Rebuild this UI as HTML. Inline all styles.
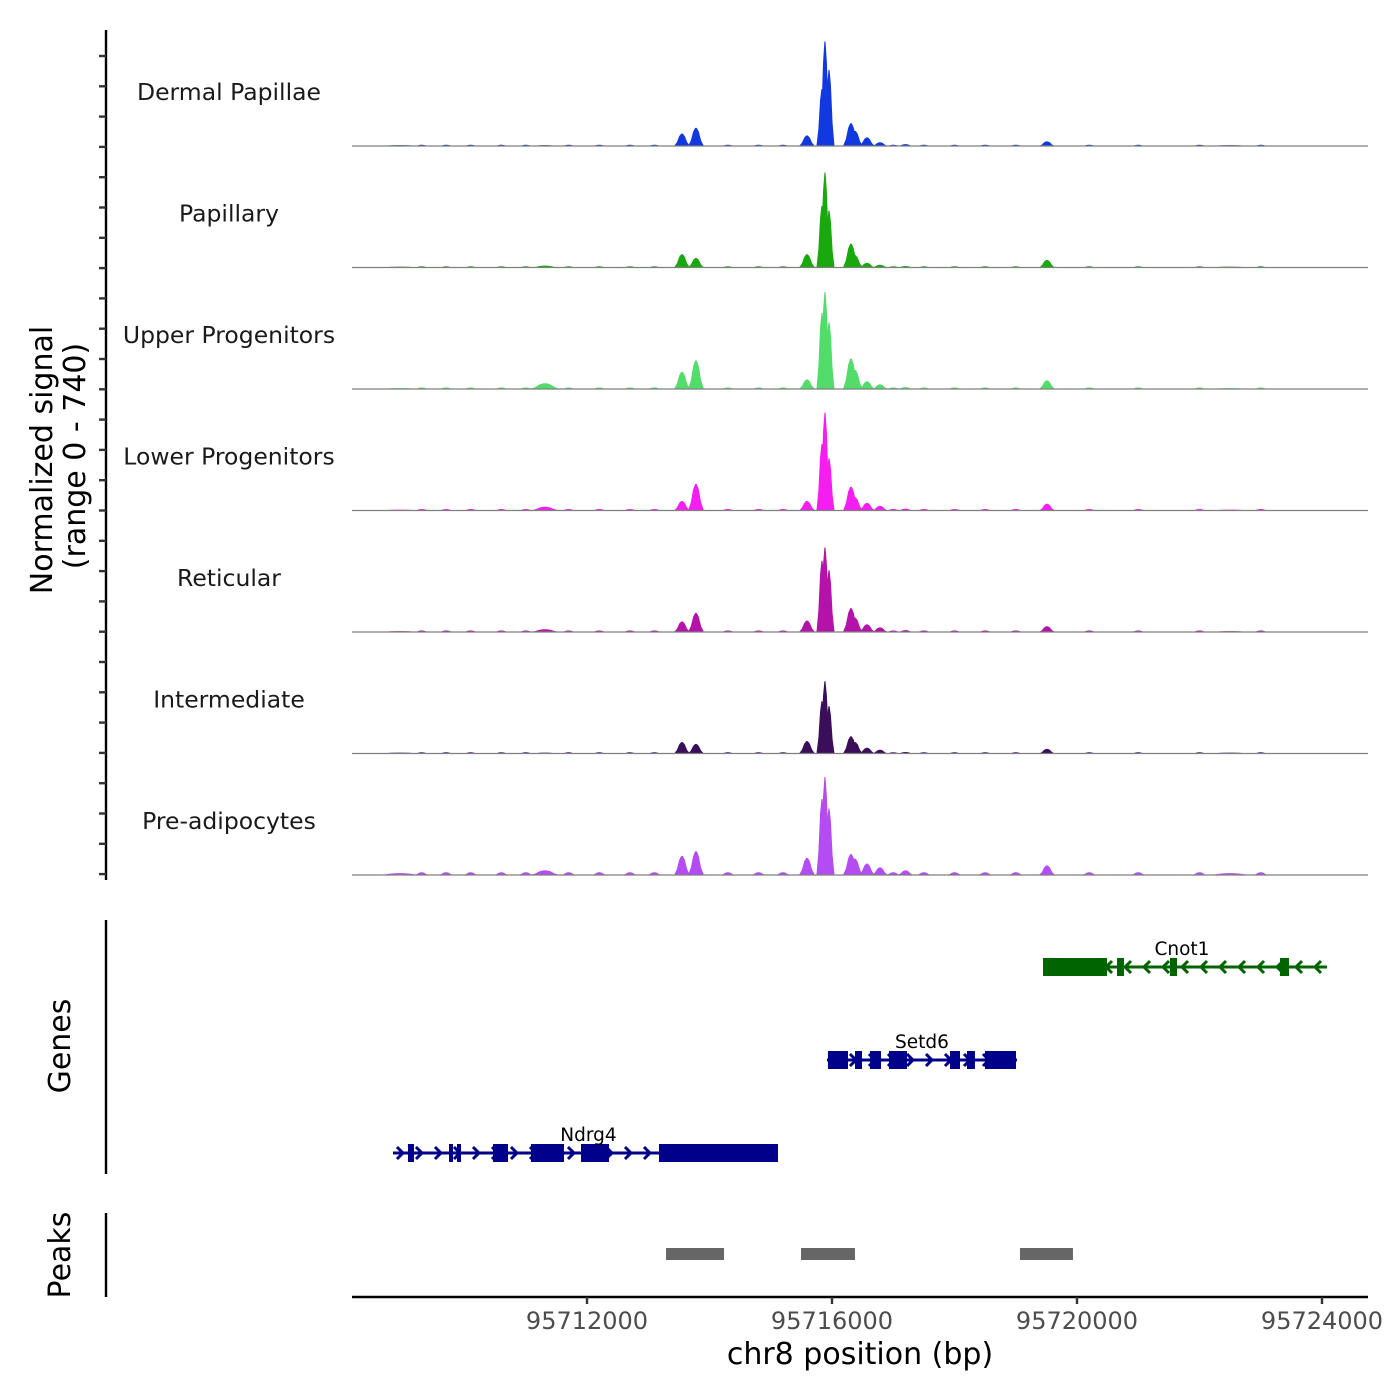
<!DOCTYPE html>
<html><head><meta charset="utf-8"><style>
body{margin:0;background:#fff}
svg{display:block;font-family:"DejaVu Sans","Liberation Sans",sans-serif}
</style></head><body>
<svg id="chart" width="1400" height="1400" viewBox="0 0 1400 1400" xmlns="http://www.w3.org/2000/svg">
<g id="tracks"></g>
<g id="genes"></g>
<g id="peaks"></g>
<g id="axes"></g>
<text transform="translate(52,460) rotate(-90)" text-anchor="middle" font-size="30" fill="#000">Normalized signal</text>
<text transform="translate(85,456) rotate(-90)" text-anchor="middle" font-size="30" fill="#000">(range 0 - 740)</text>
<text transform="translate(70,1046) rotate(-90)" text-anchor="middle" font-size="30" fill="#000">Genes</text>
<text transform="translate(70,1255) rotate(-90)" text-anchor="middle" font-size="30" fill="#000">Peaks</text>
<text x="860" y="1364" text-anchor="middle" font-size="30" fill="#000">chr8 position (bp)</text>
</svg>
<script>
const trackNames = ["Dermal Papillae","Papillary","Upper Progenitors","Lower Progenitors","Reticular","Intermediate","Pre-adipocytes"];
const trackColors = ["#1239e0","#19a80d","#52dc6a","#f51ef0","#b412a8","#3b0e5a","#b34cf2"];
const peakPositions = [95708947,95711314,95713551,95713779,95715592,95715836,95715885,95715951,95716310,95716375,95716571,95716783,95717200,95719510,95722500];
const sigDermal   = [6,6,79,116,67,365,670,487,146,97,55,24,12,30,6];
const sigPapillary= [6,12,85,61,85,396,609,365,152,79,30,18,10,49,6];
const sigUpper    = [6,37,110,183,61,487,621,426,195,122,49,30,12,55,6];
const sigLower    = [6,24,61,170,61,426,627,335,152,85,49,30,12,43,6];
const sigReticular= [6,18,67,122,73,457,542,396,152,91,49,30,12,37,6];
const sigInterm   = [6,6,73,61,79,335,463,304,110,73,37,24,10,30,6];
const sigPreadip  = [12,30,122,152,110,487,627,426,134,104,73,49,30,61,12];
const trackSignals = [sigDermal,sigPapillary,sigUpper,sigLower,sigReticular,sigInterm,sigPreadip];
const bgPositions = [95709300,95709700,95710100,95710600,95711000,95711700,95712200,95712700,95713100,95714300,95714800,95715200,95717000,95717500,95718000,95718500,95719000,95720200,95721000,95722000,95723000];
const bgLevels = [8,8,10,10,10,8,18];
const xTicks = [95712000,95716000,95720000,95724000];
const xTickLabels = ["95712000","95716000","95720000","95724000"];
const geneNames = ["Cnot1","Setd6","Ndrg4"];
const geneStrands = [-1,1,1];
const geneStarts = [95719445,95715918,95708832];
const geneEnds = [95724081,95719020,95715118];
const geneExons = [
 [[95719445,95720490],[95720653,95720767],[95721518,95721633],[95723314,95723461]],
 [[95715934,95716261],[95716375,95716490],[95716620,95716800],[95716930,95717224],[95717926,95718090],[95718204,95718334],[95718498,95719004]],
 [[95709077,95709175],[95709747,95709796],[95709877,95709943],[95710465,95710710],[95711085,95711624],[95711902,95712359],[95713175,95715118]]
];
const peakStarts = [95713290,95715494,95719069];
const peakEnds = [95714237,95716375,95719934];

const NS="http://www.w3.org/2000/svg";
const X0=352,X1=1368;
const xs = bp => 587 + (bp-95712000)*245/4000;
const trackTop=24.5, trackH=121.5, yMax=740;
function mk(tag,attrs,parent){const e=document.createElementNS(NS,tag);for(const k in attrs)e.setAttribute(k,attrs[k]);parent.appendChild(e);return e;}
function bump(p,v,hw,base,ys){
  return `M${xs(p-hw)},${base} L${xs(p-hw*0.65)},${ys(v*0.3)} L${xs(p-hw*0.35)},${ys(v*0.8)} L${xs(p-hw*0.1)},${ys(v)} L${xs(p+hw*0.1)},${ys(v)} L${xs(p+hw*0.35)},${ys(v*0.8)} L${xs(p+hw*0.65)},${ys(v*0.3)} L${xs(p+hw)},${base} Z`;
}
const tg=document.getElementById('tracks');
trackNames.forEach((name,t)=>{
  const base=trackTop+trackH*(t+1);
  const ys=v=>base - v/yMax*trackH*0.95;
  const g=mk('g',{},tg);
  
  
  const lab=mk('text',{x:229,y:base-46,'text-anchor':'middle','font-size':23.5,fill:'#1a1a1a'},g);
  lab.textContent=name;
  
  
  bgPositions.forEach(p=>{
    const pa=mk('path',{d:bump(p,bgLevels[t],120,base,ys),fill:trackColors[t]},g);
    
    
  });
  const vals=trackSignals[t];
  peakPositions.forEach((p,i)=>{
    const hw = (i>=5&&i<=7)?90:(i===0||i===14?400:(i===1?250:130));
    const pa=mk('path',{d:bump(p,vals[i],hw,base,ys),fill:trackColors[t]},g);
    
    
  });
  const bl=mk('line',{x1:X0,x2:X1,y1:base,y2:base,stroke:'#7f7f7f','stroke-width':1.2},g);
  
  
});
// genes
const gg=document.getElementById('genes');
const geneY=[967,1060,1153], geneCol=["#006400","#00008b","#00008b"];
geneNames.forEach((n,i)=>{
  const y=geneY[i],c=geneCol[i];
  const g=mk('g',{},gg);
  
  
  const x1=xs(geneStarts[i]),x2=xs(geneEnds[i]);
  mk('line',{x1:x1,x2:x2,y1:y,y2:y,stroke:c,'stroke-width':3},g);
  for(let x=x1+8;x<x2-2;x+=19){
    const s=geneStrands[i];
    mk('polyline',{points:`${x-4*s},${y-6} ${x+2*s},${y} ${x-4*s},${y+6}`,fill:'none',stroke:c,'stroke-width':3},g);
  }
  geneExons[i].forEach(e=>{
    const r=mk('rect',{x:xs(e[0]),y:y-9,width:Math.max(4,xs(e[1])-xs(e[0])),height:18,fill:c},g);
    
    
  });
  const lab=mk('text',{x:(x1+x2)/2+ (i===2?3:(i===0?-3:0)),y:y-12,'text-anchor':'middle','font-size':18.5,fill:'#000'},g);
  lab.textContent=n;
  
  
});
// peaks
const pg=document.getElementById('peaks');
peakStarts.forEach((s,i)=>{
  const r=mk('rect',{x:xs(s),y:1248,width:xs(peakEnds[i])-xs(s),height:12,fill:'#666666'},pg);
  
  
});
// axes
const ag=document.getElementById('axes');
[[30,880],[920,1174],[1213,1297]].forEach((r,i)=>{
  const l=mk('line',{x1:106,x2:106,y1:r[0],y2:r[1],stroke:'#000','stroke-width':2.4},ag);
  
  
});
for(let y=56;y<880;y+=30.3){
  mk('line',{x1:99,x2:106,y1:y,y2:y,stroke:'#333','stroke-width':2.4},ag);
}
const xl=mk('line',{x1:X0,x2:X1,y1:1297,y2:1297,stroke:'#000','stroke-width':2.4},ag);


xTicks.forEach((v,i)=>{
  mk('line',{x1:xs(v),x2:xs(v),y1:1297,y2:1304,stroke:'#333','stroke-width':2.4},ag);
  const t=mk('text',{x:xs(v),y:1329,'text-anchor':'middle','font-size':24,fill:'#4d4d4d'},ag);
  t.textContent=xTickLabels[i];
  
  
});
</script>
</body></html>
